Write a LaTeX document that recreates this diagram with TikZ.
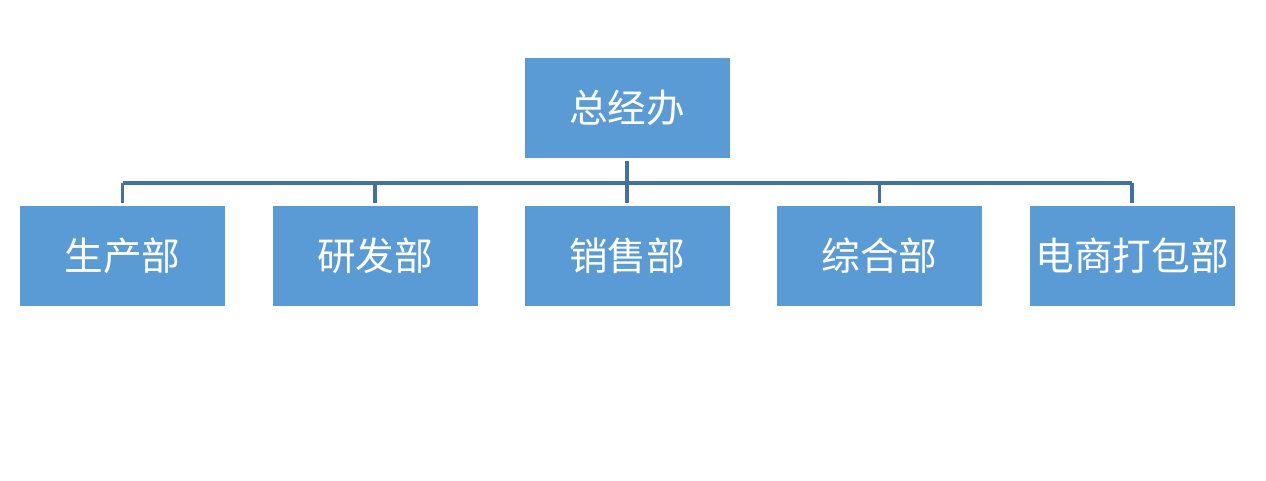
\documentclass[tikz,border=0pt]{standalone}
\usepackage{fontspec}
\newfontfamily\cjk{Noto Sans CJK SC}
\usetikzlibrary{positioning, calc}
\definecolor{boxblue}{HTML}{5B9BD5}
\definecolor{lineblue}{HTML}{41719C}
\tikzset{
  dept/.style={
    rectangle, minimum width=4.1cm, minimum height=2cm,
    text centered, fill=boxblue, text=white, inner sep=0pt,
    font=\cjk\fontsize{22}{26}\selectfont
  },
  link/.style={
    line width=2.2pt, color=lineblue
  }
}
\begin{document}
\begin{tikzpicture}
    \useasboundingbox (0,0) rectangle (25.32,9.62);
    % Top block
    \node[dept] (gm) at (12.54,7.46) {总经办};

    % Department blocks
    \node[dept] (prod) at (2.45,4.5) {生产部};
    \node[dept] (rd) at (7.5,4.5) {研发部};
    \node[dept] (sales) at (12.54,4.5) {销售部};
    \node[dept] (admin) at (17.59,4.5) {综合部};
    \node[dept] (ecom) at (22.64,4.5) {电商打包部};

    % Bus line
    \coordinate (bus) at (12.54,5.96);
    \draw[link, shorten <=0.05cm] (gm.south) -- (bus);
    \draw[link] (prod |- bus) -- (ecom |- bus);
    \foreach \d in {prod, rd, sales, admin, ecom}
      \draw[link, shorten >=0.06cm] (\d |- bus) -- (\d.north);
\end{tikzpicture}
\end{document}
